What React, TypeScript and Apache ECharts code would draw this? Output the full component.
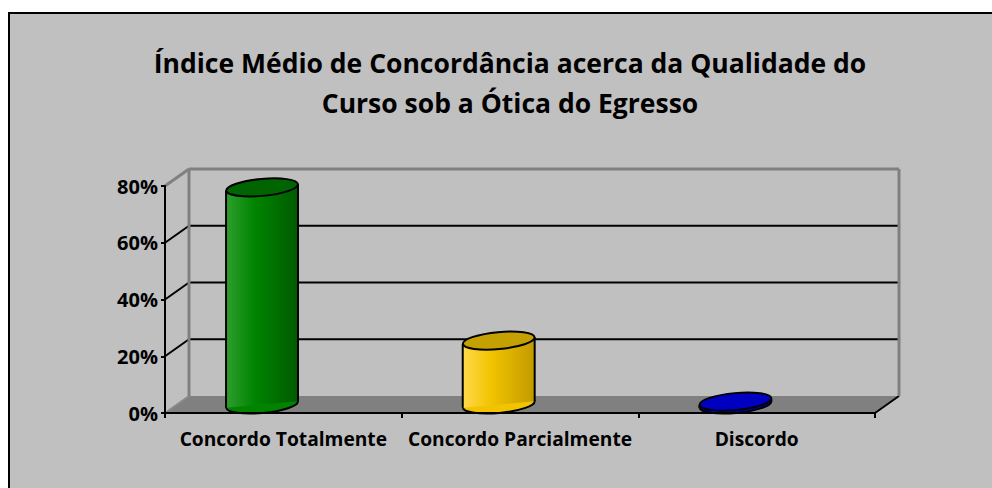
import React, { useEffect, useRef } from "react";
import * as echarts from "echarts";

const categories = ["Concordo Totalmente", "Concordo Parcialmente", "Discordo"];
const values = [0.765, 0.225, 0.01];
const yTicks = [0, 0.2, 0.4, 0.6, 0.8];
const titleText = "Índice Médio de Concordância acerca da Qualidade do\nCurso sob a Ótica do Egresso";
const bodyColors = [
  ["#2e9e2e", "#008400", "#005a00"],
  ["#ffd94a", "#f2c300", "#c29a00"],
  ["#2020d8", "#0000c8", "#000098"],
];
const topColors = ["#006400", "#c4a000", "#0000c0"];

const DX = 24;
const DY = -17;
const TILT = 0.09;
const FONT = "'Open Sans', 'DejaVu Sans', sans-serif";

export default function App() {
  const ref = useRef<HTMLDivElement>(null);
  useEffect(() => {
    if (!ref.current) return;
    const chart = echarts.init(ref.current, undefined, { renderer: "svg" });
    const yMax = yTicks[yTicks.length - 1];

    const frameItem = (params: any, api: any) => {
      const v = api.value(1);
      const cs = params.coordSys;
      const x0 = cs.x;
      const x1 = cs.x + cs.width;
      const y = api.coord([0, v])[1];
      const yb = api.coord([0, 0])[1];
      const children: any[] = [];
      const gray = { stroke: "#808080", lineWidth: 3 };
      const black = { stroke: "#000", lineWidth: 2 };
      if (v === 0) {
        children.push({
          type: "polygon",
          shape: { points: [[x0, y], [x1, y], [x1 + DX, y + DY], [x0 + DX, y + DY]] },
          style: { fill: "#808080" },
        });
        children.push({ type: "line", shape: { x1: x0, y1: y, x2: x0 + DX, y2: y + DY }, style: { stroke: "#8a8a8a", lineWidth: 2 } });
        children.push({ type: "line", shape: { x1: x1, y1: y, x2: x1 + DX, y2: y + DY }, style: black });
      } else if (v === yMax) {
        children.push({ type: "line", shape: { x1: x0 + DX, y1: y + DY, x2: x1 + DX, y2: y + DY }, style: gray });
        children.push({ type: "line", shape: { x1: x0, y1: y, x2: x0 + DX, y2: y + DY }, style: gray });
        children.push({ type: "line", shape: { x1: x0 + DX, y1: y + DY, x2: x0 + DX, y2: yb + DY }, style: gray });
        children.push({ type: "line", shape: { x1: x1 + DX, y1: y + DY, x2: x1 + DX, y2: yb + DY }, style: gray });
      } else {
        children.push({ type: "line", shape: { x1: x0 + DX, y1: y + DY, x2: x1 + DX, y2: y + DY }, style: black });
        children.push({ type: "line", shape: { x1: x0, y1: y, x2: x0 + DX, y2: y + DY }, style: black });
      }
      return { type: "group", children };
    };

    const cylItem = (params: any, api: any) => {
      const i = api.value(0);
      const v = api.value(1);
      const idx = params.dataIndex;
      const band = api.size([1, 0])[0];
      const top = api.coord([i, v]);
      const base = api.coord([i, 0]);
      const cx = top[0] - 0.09 * band;
      const cyT = top[1] + DY / 2;
      const cyB = base[1] + DY / 2;
      const rx = 0.152 * band;
      const ry = 8.5;
      const s = rx * Math.sin(TILT);
      const c = bodyColors[idx];
      const grad = new echarts.graphic.LinearGradient(0, 0, 1, 0, [
        { offset: 0, color: c[0] },
        { offset: 0.4, color: c[1] },
        { offset: 1, color: c[2] },
      ]);
      return {
        type: "group",
        children: [
          {
            type: "ellipse",
            shape: { cx, cy: cyB, rx, ry },
            rotation: TILT,
            originX: cx,
            originY: cyB,
            style: { fill: c[1], stroke: "#000", lineWidth: 2 },
          },
          {
            type: "polygon",
            shape: { points: [[cx - rx, cyT + s], [cx + rx, cyT - s], [cx + rx, cyB - s], [cx - rx, cyB + s]] },
            style: { fill: grad },
          },
          { type: "line", shape: { x1: cx - rx, y1: cyT + s, x2: cx - rx, y2: cyB + s }, style: { stroke: "#000", lineWidth: 2 } },
          { type: "line", shape: { x1: cx + rx, y1: cyT - s, x2: cx + rx, y2: cyB - s }, style: { stroke: "#000", lineWidth: 2 } },
          {
            type: "ellipse",
            shape: { cx, cy: cyT, rx, ry },
            rotation: TILT,
            originX: cx,
            originY: cyT,
            style: { fill: topColors[idx], stroke: "#000", lineWidth: 2 },
          },
        ],
      };
    };

    chart.setOption({
      animation: false,
      backgroundColor: "#ffffff",
      graphic: [
        {
          type: "rect",
          z: -10,
          shape: { x: 9, y: 13, width: 1000, height: 500 },
          style: { fill: "#c0c0c0", stroke: "#000", lineWidth: 2 },
        },
      ],
      title: {
        text: titleText,
        left: 505,
        top: 38,
        textAlign: "center",
        textStyle: { fontFamily: FONT, fontWeight: "bold", fontSize: 26.5, lineHeight: 40, color: "#000" },
      },
      grid: { left: 165, right: 117, top: 186, bottom: 75 },
      xAxis: {
        type: "category",
        data: categories,
        axisLine: { show: true, lineStyle: { color: "#000", width: 2 } },
        axisTick: { show: true, length: 5, lineStyle: { color: "#000", width: 2 } },
        axisLabel: { interval: 0, fontFamily: FONT, fontWeight: "bold", fontSize: 19.2, color: "#000", margin: 16 },
        z: 5,
      },
      yAxis: {
        type: "value",
        min: 0,
        max: yMax,
        interval: 0.2,
        axisLine: { show: true, lineStyle: { color: "#000", width: 2 } },
        axisTick: { show: true, length: 4, lineStyle: { color: "#000", width: 2 } },
        splitLine: { show: false },
        axisLabel: {
          fontFamily: FONT,
          fontWeight: "bold",
          fontSize: 20,
          color: "#000",
          margin: 7,
          formatter: (v: number) => Math.round(v * 100) + "%",
        },
        z: 5,
      },
      series: [
        {
          type: "custom",
          z: 1,
          renderItem: frameItem,
          data: yTicks.map((v) => [0, v]),
          silent: true,
        },
        {
          type: "custom",
          z: 3,
          renderItem: cylItem,
          data: values.map((v, i) => [i, v]),
        },
      ],
    });
    return () => chart.dispose();
  }, []);
  return <div ref={ref} style={{ position: "fixed", left: 0, top: 0, width: 992, height: 488 }} />;
}
